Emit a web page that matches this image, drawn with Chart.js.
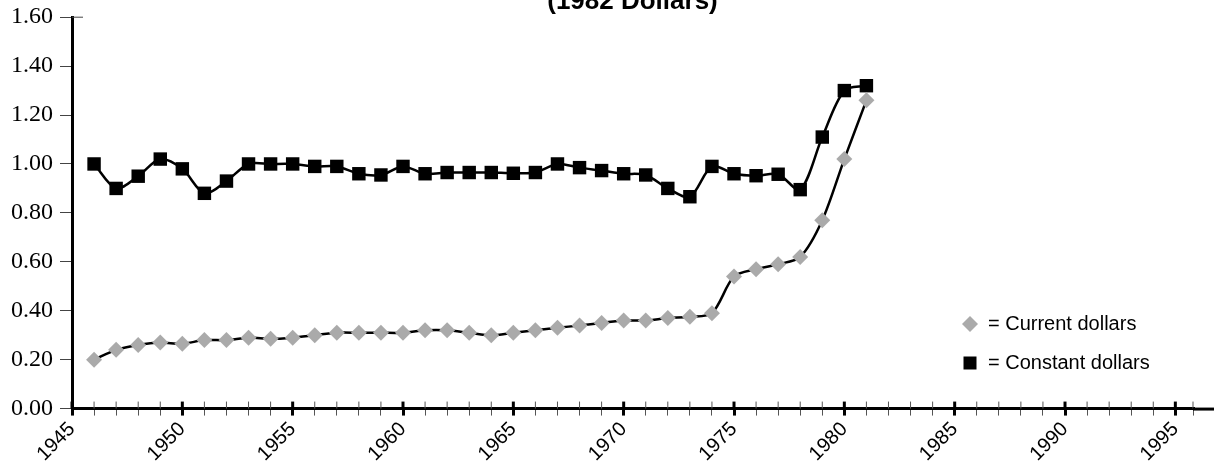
<!DOCTYPE html>
<html>
<head>
<meta charset="utf-8">
<script src="https://cdn.jsdelivr.net/npm/chart.js@4"></script>
<style>
  body { margin: 0; background: #fff; }
  #wrap { position: relative; width: 1214px; height: 472px; overflow: hidden; }
  #priceChart { position: absolute; left: 0; top: -14px; }
</style>
</head>
<body>
<div id="wrap"><canvas id="priceChart" width="1214" height="486"></canvas></div>
<script>
// years shown on the chart
const years = [1946, 1947, 1948, 1949, 1950, 1951, 1952, 1953, 1954, 1955,
  1956, 1957, 1958, 1959, 1960, 1961, 1962, 1963, 1964, 1965,
  1966, 1967, 1968, 1969, 1970, 1971, 1972, 1973, 1974, 1975,
  1976, 1977, 1978, 1979, 1980, 1981];

const current = [0.20, 0.24, 0.26, 0.27, 0.265, 0.28, 0.28, 0.29, 0.285, 0.29,
  0.30, 0.31, 0.31, 0.31, 0.31, 0.32, 0.32, 0.31, 0.30, 0.31,
  0.32, 0.33, 0.34, 0.35, 0.36, 0.36, 0.37, 0.375, 0.39, 0.54,
  0.57, 0.59, 0.62, 0.77, 1.02, 1.26];

const constant = [1.00, 0.90, 0.95, 1.02, 0.98, 0.88, 0.93, 1.00, 1.00, 1.00,
  0.99, 0.99, 0.96, 0.955, 0.99, 0.96, 0.965, 0.965, 0.965, 0.962,
  0.965, 1.00, 0.985, 0.973, 0.96, 0.955, 0.90, 0.866, 0.99, 0.96,
  0.952, 0.958, 0.895, 1.11, 1.30, 1.32];

const yTicks = [0, 0.2, 0.4, 0.6, 0.8, 1.0, 1.2, 1.4, 1.6];
// one tick per year, the axis stops a little short of 1996
const xTicks = [];
for (let yr = 1945; yr <= 1995; yr++) xTicks.push(yr);
xTicks.push(1995.8);

const gray = "#aaaaaa";
const serif = "'Liberation Serif', 'Times New Roman', Times, serif";
const sans = "'Liberation Sans', Arial, Helvetica, sans-serif";

// little extras: upper half of x ticks, axis line to the edge, legend
const extras = {
    id: "extras",
    afterDraw(chart) {
        const ctx = chart.ctx;
        const x = chart.scales.x, y = chart.scales.y;
        const area = chart.chartArea;
        ctx.save();
        x.ticks.forEach(t => {
            const px = x.getPixelForValue(t.value);
            const major = t.value % 5 === 0;
            ctx.lineWidth = major ? 3 : 1;
            ctx.strokeStyle = major ? "#000" : "#555";
            ctx.beginPath();
            ctx.moveTo(px, area.bottom - 7);
            ctx.lineTo(px, area.bottom);
            ctx.stroke();
        });
        ctx.lineWidth = 3;
        ctx.strokeStyle = "#000";
        ctx.beginPath();
        ctx.moveTo(area.right, area.bottom + 0.5);
        ctx.lineTo(chart.width, area.bottom + 0.5);
        ctx.stroke();
        // top tick sticks out to the right
        const top = y.getPixelForValue(1.6);
        ctx.lineWidth = 1;
        ctx.strokeStyle = "#444";
        ctx.beginPath();
        ctx.moveTo(area.left, top);
        ctx.lineTo(area.left + 11, top);
        ctx.stroke();

        // legend
        const lx = 970;
        const rows = [[338, chart.data.datasets[0]], [377, chart.data.datasets[1]]];
        ctx.font = "20px " + sans;
        ctx.textBaseline = "middle";
        rows.forEach(([ly, ds]) => {
            ctx.fillStyle = ds.pointBackgroundColor;
            ctx.beginPath();
            if (ds.pointStyle === "rectRot") {
                ctx.moveTo(lx, ly - 8); ctx.lineTo(lx + 8, ly);
                ctx.lineTo(lx, ly + 8); ctx.lineTo(lx - 8, ly);
            } else {
                ctx.rect(lx - 6.5, ly - 6.5, 13, 13);
            }
            ctx.closePath();
            ctx.fill();
            ctx.fillStyle = "#000";
            ctx.fillText("= " + ds.label, lx + 18, ly);
        });
        ctx.restore();
    }
};

new Chart(document.getElementById("priceChart"), {
    type: "line",
    data: {
        datasets: [
            {
                label: "Current dollars",
                data: years.map((yr, i) => ({ x: yr, y: current[i] })),
                borderColor: "#000", borderWidth: 2.5,
                pointStyle: "rectRot", pointRadius: 8,
                pointBackgroundColor: gray, pointBorderWidth: 0,
                tension: 0.3, fill: false
            },
            {
                label: "Constant dollars",
                data: years.map((yr, i) => ({ x: yr, y: constant[i] })),
                borderColor: "#000", borderWidth: 2.5,
                pointStyle: "rect", pointRadius: 9.5,
                pointBackgroundColor: "#000", pointBorderWidth: 0,
                tension: 0.3, fill: false
            }
        ]
    },
    options: {
        responsive: false,
        animation: false,
        clip: false,
        layout: { padding: { left: 4, right: 21, bottom: 4 } },
        plugins: {
            legend: { display: false },
            tooltip: { enabled: false },
            title: {
                display: true,
                text: "(1982 Dollars)",
                fullSize: false,
                color: "#000",
                font: { family: sans, size: 26, weight: "bold" },
                padding: { top: 0, bottom: 0 }
            }
        },
        scales: {
            x: {
                type: "linear",
                min: 1945, max: 1995.8,
                afterBuildTicks: s => { s.ticks = xTicks.map(v => ({ value: v })); },
                border: { color: "#000", width: 3 },
                grid: {
                    drawOnChartArea: false,
                    tickLength: 7,
                    lineWidth: c => (c.tick && c.tick.value % 5 === 0) ? 3 : 1,
                    color: c => (c.tick && c.tick.value % 5 === 0) ? "#000" : "#555"
                },
                ticks: {
                    autoSkip: false,
                    minRotation: 45, maxRotation: 45,
                    padding: 2,
                    color: "#000",
                    font: { family: sans, size: 20 },
                    callback: v => (v % 5 === 0 ? String(v) : "")
                }
            },
            y: {
                min: 0, max: 1.6,
                afterBuildTicks: s => { s.ticks = yTicks.map(v => ({ value: v })); },
                border: { color: "#000", width: 3 },
                grid: { drawOnChartArea: false, tickLength: 12, color: "#444", lineWidth: 1 },
                ticks: {
                    padding: 7,
                    color: "#000",
                    font: { family: serif, size: 24 },
                    callback: v => v.toFixed(2)
                }
            }
        }
    },
    plugins: [extras]
});
</script>
</body>
</html>
